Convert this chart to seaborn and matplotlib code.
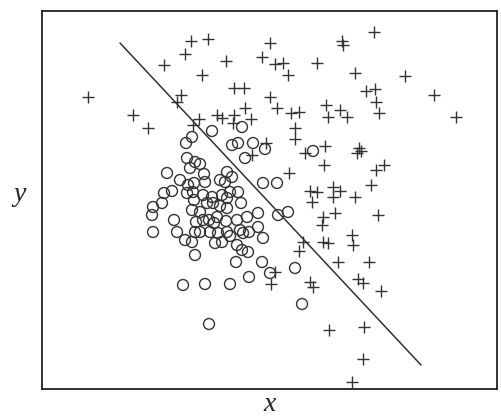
import matplotlib
matplotlib.use("Agg")
import matplotlib.pyplot as plt
import seaborn as sns
import pandas as pd

# Class "o" samples
circle_x = [212, 242, 192, 186, 232, 238, 253, 265, 245, 187, 195, 200, 190, 167, 204, 227,
            232, 225, 180, 188, 194, 205, 220, 263, 277, 164, 172, 187, 193, 203, 212, 222,
            230, 238, 153, 162, 152, 153, 174, 177, 185, 192, 195, 194, 207, 213, 220, 227,
            192, 200, 196, 203, 209, 214, 195, 200, 210, 218, 227, 222, 215, 217, 226, 237,
            241, 247, 258, 278, 288, 240, 243, 249, 258, 263, 230, 237, 242, 248, 236, 262,
            270, 295, 302, 183, 205, 230, 249, 209, 313, 227]
circle_y = [269, 273, 263, 257, 255, 257, 257, 251, 242, 242, 238, 236, 232, 227, 226, 228,
            223, 218, 220, 215, 217, 218, 220, 217, 217, 207, 209, 207, 208, 205, 203, 205,
            208, 208, 193, 197, 185, 168, 180, 168, 160, 158, 145, 200, 197, 197, 194, 192,
            190, 188, 178, 180, 180, 177, 168, 168, 168, 167, 168, 158, 157, 183, 179, 180,
            197, 183, 187, 185, 188, 170, 167, 168, 173, 162, 164, 155, 150, 148, 138, 138,
            127, 132, 96, 115, 116, 116, 123, 76, 249, 202]

# Class "+" samples
plus_x = [88, 191, 208, 185, 164, 202, 226, 262, 270, 234, 244, 270, 181, 177, 133, 148,
          199, 193, 217, 222, 245, 234, 233, 251, 266, 252, 275, 283, 288, 317, 342, 343,
          374, 355, 405, 366, 375, 376, 379, 434, 456, 277, 291, 299, 326, 328, 340, 347,
          295, 295, 325, 305, 357, 361, 359, 324, 376, 384, 289, 371, 310, 317, 333, 333,
          340, 355, 312, 378, 323, 335, 322, 352, 353, 303, 323, 328, 299, 338, 369, 275,
          271, 310, 313, 358, 363, 381, 329, 364, 363, 352]
plus_y = [303, 359, 361, 346, 335, 325, 339, 343, 357, 312, 312, 303, 305, 298, 285, 272,
          281, 275, 285, 282, 292, 285, 277, 281, 257, 245, 336, 337, 325, 337, 359, 355,
          368, 327, 324, 309, 311, 298, 287, 305, 283, 292, 287, 288, 295, 283, 290, 283,
          272, 261, 254, 247, 247, 249, 252, 235, 230, 235, 227, 215, 209, 208, 213, 203,
          209, 203, 198, 185, 183, 187, 175, 165, 155, 158, 158, 157, 149, 138, 138, 128,
          116, 118, 113, 121, 117, 109, 70, 73, 41, 18]

# Linear decision boundary
boundary_x = [120, 421]
boundary_y = [357, 35]

circles = pd.DataFrame({"x": circle_x, "y": circle_y})
pluses = pd.DataFrame({"x": plus_x, "y": plus_y})
boundary = pd.DataFrame({"x": boundary_x, "y": boundary_y})

sns.set_style("white")
ink = "#333333"

fig = plt.figure(figsize=(5.01, 4.17), dpi=100)
ax = fig.add_axes([42 / 501, 28 / 417, 455 / 501, 378 / 417])

sns.lineplot(data=boundary, x="x", y="y", ax=ax, color=ink, linewidth=1.1,
             sort=False, estimator=None)
sns.scatterplot(data=circles, x="x", y="y", ax=ax, marker="o", s=62,
                facecolor="none", edgecolor=ink, linewidth=1.0)
sns.scatterplot(data=pluses, x="x", y="y", ax=ax, marker="+", s=75,
                color=ink, linewidth=1.0)

ax.set_xlim(42, 497)
ax.set_ylim(11, 389)
ax.set_xticks([])
ax.set_yticks([])
for side in ax.spines.values():
    side.set_visible(True)
    side.set_color("#222222")
    side.set_linewidth(1.3)

label_font = dict(family="Liberation Serif", style="italic", fontsize=20)
ax.set_xlabel("x", va="center", **label_font)
ax.set_ylabel("y", rotation=0, va="center", ha="center", **label_font)
ax.xaxis.set_label_coords(0.5, -0.042)
ax.yaxis.set_label_coords(-0.05, 0.515)

fig.savefig("out.png", dpi=100)
